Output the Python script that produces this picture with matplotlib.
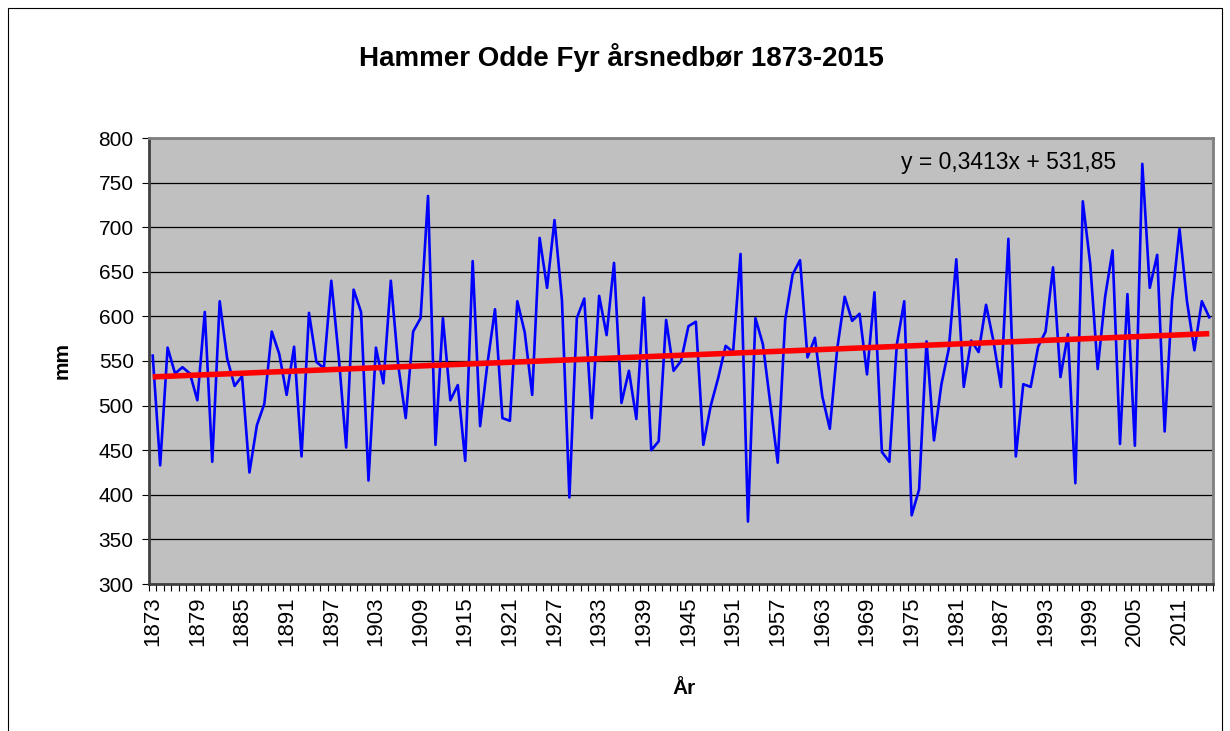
import matplotlib
matplotlib.use("Agg")
import matplotlib.pyplot as plt
from matplotlib.patches import Rectangle
import numpy as np

plt.rcParams['font.family'] = ['Liberation Sans', 'DejaVu Sans']

# ---- data ----
years = list(range(1873, 2016))
precip_mm = [
    556, 433, 565, 536, 543, 536, 506, 605, 437, 617,   # 1873-1882
    553, 522, 533, 425, 478, 502, 583, 558, 512, 566,   # 1883-1892
    443, 604, 549, 542, 640, 555, 453, 630, 605, 416,   # 1893-1902
    565, 525, 640, 545, 486, 583, 598, 735, 456, 598,   # 1903-1912
    506, 523, 438, 662, 477, 548, 608, 486, 483, 617,   # 1913-1922
    582, 512, 688, 632, 708, 618, 397, 598, 620, 486,   # 1923-1932
    623, 579, 660, 503, 539, 485, 621, 450, 460, 596,   # 1933-1942
    539, 550, 589, 594, 456, 500, 531, 567, 560, 670,   # 1943-1952
    370, 598, 569, 502, 436, 596, 647, 663, 554, 576,   # 1953-1962
    510, 474, 564, 622, 595, 603, 535, 627, 448, 437,   # 1963-1972
    568, 617, 377, 406, 572, 461, 524, 564, 664, 521,   # 1973-1982
    573, 560, 613, 572, 521, 687, 443, 524, 521, 566,   # 1983-1992
    583, 655, 532, 580, 413, 729, 659, 541, 622, 674,   # 1993-2002
    457, 625, 455, 771, 632, 669, 471, 618, 698, 617,   # 2003-2012
    562, 617, 599,                                      # 2013-2015
]
trend_slope = 0.3413
trend_intercept = 531.85
trend_label = "y = 0,3413x + 531,85"
title = "Hammer Odde Fyr årsnedbør 1873-2015"
y_ticks = [300, 350, 400, 450, 500, 550, 600, 650, 700, 750, 800]

# ---- figure ----
W, H = 1230, 731
fig = plt.figure(figsize=(W / 100, H / 100), dpi=100)
fig.patch.set_facecolor('white')

# outer chart border (bottom edge lies just below the image)
fig.patches.append(Rectangle((8 / W, -2 / H), (1222 - 8) / W, (723 + 2) / H,
                             transform=fig.transFigure, fill=False,
                             edgecolor='#000000', linewidth=0.8))

left, right, top, bottom = 149, 1213, 138, 584
ax = fig.add_axes([left / W, 1 - bottom / H, (right - left) / W, (bottom - top) / H])
ax.set_facecolor('#C0C0C0')

x = np.arange(len(years))
ax.plot(x, precip_mm, color='#0000FF', linewidth=1.9, zorder=3)
idx = np.arange(1, len(years) + 1)
ax.plot(x, trend_slope * idx + trend_intercept, color='#FF0000', linewidth=4.0, zorder=4,
        solid_capstyle='butt')

ax.set_xlim(-0.5, len(years) - 0.5)
ax.set_ylim(300, 800)
ax.set_yticks(y_ticks)
ax.set_yticklabels([str(v) for v in y_ticks], fontsize=15)
ax.yaxis.grid(True, color='#000000', linewidth=0.9)
ax.set_axisbelow(True)

lab_idx = [i for i in range(len(years)) if i % 6 == 0]
ax.set_xticks(lab_idx)
ax.set_xticklabels([str(years[i]) for i in lab_idx], rotation=90, fontsize=16)
ax.set_xticks(np.arange(-0.5, len(years), 1.0), minor=True)
ax.tick_params(axis='x', which='major', length=0, pad=9)
ax.tick_params(axis='x', which='minor', length=5, width=0.8, color='#000000')
ax.tick_params(axis='y', which='major', length=5, width=0.8, pad=6)

for s in ax.spines.values():
    s.set_color('#808080')
    s.set_linewidth(2)
ax.spines['left'].set_color('#404040')
ax.spines['bottom'].set_color('#404040')

ax.text(0.707, 0.945, trend_label, transform=ax.transAxes, fontsize=16.5,
        ha='left', va='center', zorder=5)

fig.text(621 / W, 1 - 57 / H, title, fontsize=20, fontweight='bold',
         ha='center', va='center')
fig.text(62 / W, 1 - 361 / H, 'mm', fontsize=15, fontweight='bold',
         rotation=90, ha='center', va='center')
fig.text(684 / W, 1 - 689 / H, 'År', fontsize=15, fontweight='bold',
         ha='center', va='center')

fig.savefig('out.png', dpi=100)
